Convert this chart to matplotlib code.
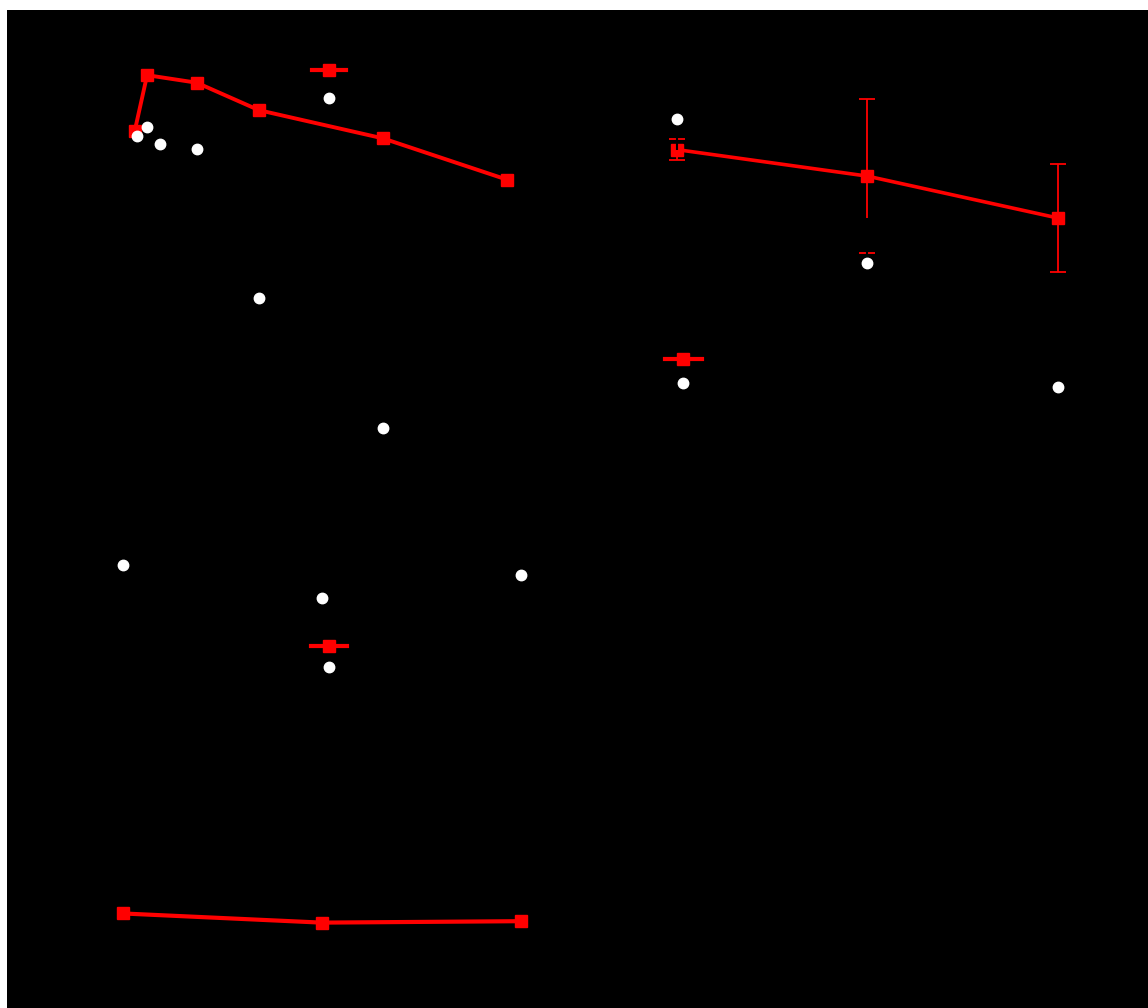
import numpy as np
import matplotlib
matplotlib.use("Agg")
import matplotlib.pyplot as plt
from matplotlib.patches import Rectangle
from matplotlib.lines import Line2D

plt.rcParams['font.family'] = ['Liberation Sans', 'DejaVu Sans']

# panel A: relative recovery vs NaCl
rec_x_cooh = [0, 5, 25, 50, 100, 150]
rec_y_cooh = [1.00, 1.141, 1.122, 1.053, 0.982, 0.878]
rec_x_plain = [1, 5, 10, 25, 50, 100]
rec_y_plain = [0.988, 1.010, 0.969, 0.955, 0.580, 0.254]

# panel B: zeta potential vs ionic strength
zeta_x = [0.003, 0.053, 0.103]
zeta_cooh = [48.1, 46.2, 43.2]
zeta_cooh_err = [0.75, 5.5, 3.9]
zeta_plain = [50.3, 40.0, 31.1]
zeta_plain_err = [2.2, 3.2, 1.0]

# panel C: hydration size vs NaCl
size_x = [0, 50, 100]
size_cooh = [75.35, 74.4, 74.55]
size_plain = [111.4, 108.0, 110.3]

RED = '#ff0000'
TXT = 'black'
W, H = 1148, 1008

fig = plt.figure(figsize=(11.48, 10.08), dpi=100)
fig.patch.set_facecolor('white')
fig.patches.append(Rectangle((7 / W, 0), 1, 998 / H, transform=fig.transFigure,
                             facecolor='black', edgecolor='none', zorder=-10))


def px_axes(left, top, right, bottom):
    ax = fig.add_axes([left / W, 1 - bottom / H, (right - left) / W, (bottom - top) / H])
    ax.set_facecolor('none')
    for s in ax.spines.values():
        s.set_color('black')
    ax.tick_params(colors=TXT, labelsize=10, length=0)
    return ax


def put_legend(ax, labels, x, y, hl, spacing, ms_sq):
    handles = [Line2D([], [], color=RED, lw=3, marker='s', ms=ms_sq),
               Line2D([], [], ls='none', marker='o', ms=7.5, color='white', mec='white')]
    ax.legend(handles, labels, loc='center left', bbox_to_anchor=(x / W, 1 - y / H),
              bbox_transform=fig.transFigure, frameon=False, fontsize=11,
              labelcolor=TXT, handlelength=hl, handletextpad=0.4,
              borderpad=0, borderaxespad=0, labelspacing=spacing)


# --- panel A
ax1 = px_axes(85, 51.7, 532.1, 477.2)
ax1.plot(rec_x_cooh, rec_y_cooh, color=RED, lw=2.8, marker='s', ms=8, zorder=3)
ax1.plot(rec_x_plain, rec_y_plain, ls='none', marker='o', ms=7.5, color='white',
         mec='white', zorder=4)
ax1.set_xlim(-20, 160)
ax1.set_ylim(0.13, 1.2)
ax1.set_xticks(np.arange(-20, 161, 20))
ax1.set_yticks(np.arange(0.2, 1.21, 0.1))
ax1.set_yticklabels(['%.1f' % v for v in np.arange(0.2, 1.21, 0.1)])
ax1.set_xlabel('NaCl conc. in HEPES (mM)', fontsize=12, color=TXT, labelpad=14)
ax1.set_ylabel('Relative Recovery %', fontsize=12, color=TXT)
put_legend(ax1, ['85 nm COOH-NP', '102 nm Unmodified NP'], 312, 85.5, 2.2, 0.95, 8)

# --- panel B
ax2 = px_axes(627.6, 53.4, 1122.4, 471.8)
ax2.errorbar(zeta_x, zeta_cooh, yerr=zeta_cooh_err, color=RED, lw=2.6, marker='s', ms=8,
             ecolor=RED, elinewidth=1.3, capsize=6, capthick=1.3, zorder=3)
ax2.errorbar(zeta_x, zeta_plain, yerr=zeta_plain_err, ls='none', marker='o', ms=7.5,
             color='white', mec='white', ecolor='black', elinewidth=1.5, capsize=0,
             zorder=4)
ax2.set_xlim(-0.01, 0.12)
ax2.set_ylim(25, 55)
ax2.set_xticks(np.arange(0, 0.121, 0.02))
ax2.set_xticklabels(['%.2f' % v for v in np.arange(0, 0.121, 0.02)])
ax2.set_yticks(np.arange(25, 56, 5))
ax2.set_xlabel('Ionic Strength (M)', fontsize=12, color=TXT, labelpad=14)
ax2.set_ylabel('Zeta-potential (mV)', fontsize=12, color=TXT)
put_legend(ax2, ['85 nm COOH-NP', '102 nm unmodified NP'], 665, 372.5, 2.4, 0.69, 8)

# --- panel C
ax3 = px_axes(82.7, 559, 560.5, 941)
ax3.plot(size_x, size_cooh, color=RED, lw=3, marker='s', ms=8.5, zorder=3)
ax3.plot(size_x, size_plain, ls='none', marker='o', ms=7.5, color='white',
         mec='white', zorder=4)
ax3.set_xlim(-10, 110)
ax3.set_ylim(72.5, 112)
ax3.set_xticks(np.arange(0, 101, 20))
ax3.set_yticks(np.arange(75, 111, 5))
ax3.set_xlabel('NaCl in 10 mM HEPES (mM)', fontsize=12, color=TXT, labelpad=14)
ax3.set_ylabel('Hydration Size (nm)', fontsize=12, color=TXT)
put_legend(ax3, ['85 nm COOH-NP', '102 nm unmodified NP'], 310.7, 657.5, 2.4, 0.47, 8.5)

fig.savefig('out.png', dpi=100, facecolor=fig.get_facecolor())
